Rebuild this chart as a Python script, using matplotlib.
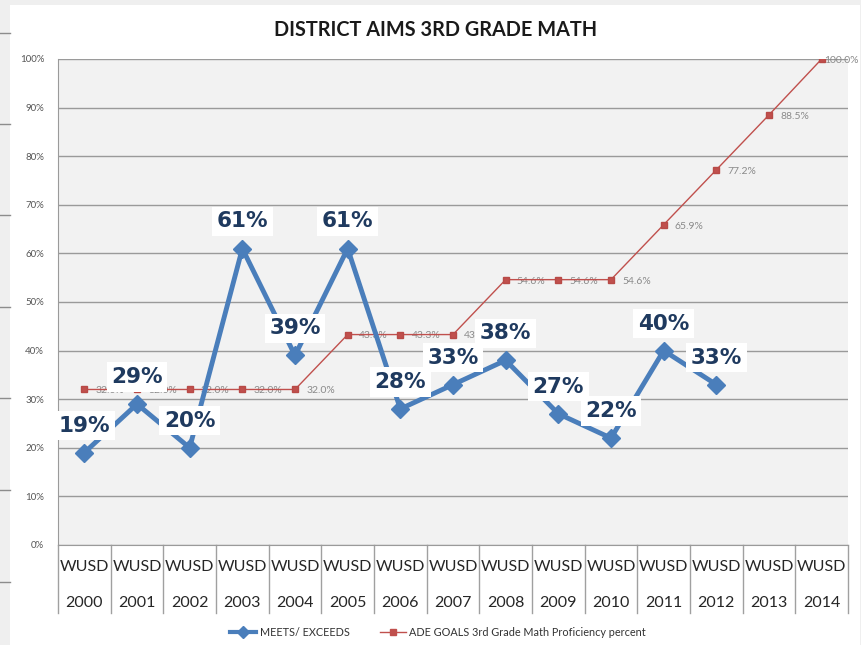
import matplotlib
matplotlib.use("Agg")
import matplotlib.pyplot as plt
import matplotlib.transforms as mtransforms
from matplotlib.patches import Rectangle
from matplotlib.lines import Line2D
import numpy as np

plt.rcParams["font.family"] = ["Lato", "DejaVu Sans"]

years = ["2000", "2001", "2002", "2003", "2004", "2005", "2006", "2007",
         "2008", "2009", "2010", "2011", "2012", "2013", "2014"]
district = ["WUSD"] * len(years)
meets = [19, 29, 20, 61, 39, 61, 28, 33, 38, 27, 22, 40, 33]
goals = [32.0, 32.0, 32.0, 32.0, 32.0, 43.3, 43.3, 43.3, 54.6, 54.6, 54.6,
         65.9, 77.2, 88.5, 100.0]

W, H = 862, 645
fig = plt.figure(figsize=(W / 100, H / 100), dpi=100, facecolor="#efefef")

# white chart frame
fig.patches.append(Rectangle((10 / W, 0), 850 / W, 640 / H, transform=fig.transFigure,
                             facecolor="white", edgecolor="none", zorder=-5))
# slide artifacts at the left edge
for yy in [33, 124, 215, 307, 398, 490, 582]:
    fig.lines.append(Line2D([0, 10 / W], [1 - yy / H] * 2, transform=fig.transFigure,
                            color="#8c8c8c", lw=1, zorder=-4))

ax = fig.add_axes([58 / W, 1 - 545 / H, 790 / W, 486 / H])
ax.set_facecolor("#f2f2f2")

x_goal = np.arange(len(goals))
x_meet = np.arange(len(meets))

ax.plot(x_goal, goals, color="#c0504d", lw=1.0, marker="s", markersize=5,
        markeredgecolor="#b84a47", zorder=3, label="ADE GOALS 3rd Grade Math Proficiency percent")
ax.plot(x_meet, meets, color="#4a7ebb", lw=3.5, marker="D", markersize=9,
        markeredgecolor="#4a7ebb", zorder=4, label="MEETS/ EXCEEDS")

for xi, v in zip(x_goal, goals):
    # last label sits on the marker so it stays inside the frame
    dx = 1.5 if xi == len(goals) - 1 else 8
    ax.annotate(f"{v:.1f}%", (xi, v), xytext=(dx, -1), textcoords="offset points",
                ha="left", va="center", fontsize=7.5, color="#8a8a8a", zorder=2,
                annotation_clip=False)

for xi, v in zip(x_meet, meets):
    ax.annotate(f"{v}%", (xi, v), xytext=(0, 19.5), textcoords="offset points",
                ha="center", va="center", fontsize=15.5, fontweight="bold",
                family="DejaVu Sans", color="#1f3a5f", zorder=6,
                bbox=dict(boxstyle="square,pad=0.22", facecolor="white", edgecolor="none"))

ax.set_xlim(-0.5, len(years) - 0.5)
ax.set_ylim(0, 100)
ax.set_yticks(np.arange(0, 101, 10))
ax.set_yticklabels([f"{t}%" for t in range(0, 101, 10)])
ax.tick_params(axis="y", length=0, labelsize=7, labelcolor="#555555", pad=10)
ax.set_xticks([])
ax.grid(axis="y", color="#9a9a9a", lw=1.0)
ax.set_axisbelow(True)
for s in ["top", "right"]:
    ax.spines[s].set_visible(False)
ax.spines["left"].set_color("#9a9a9a")
ax.spines["bottom"].set_color("#9a9a9a")

# category labels with separators
trans = mtransforms.blended_transform_factory(ax.transData, ax.transAxes)
sep_bottom = -(613 - 545) / 486
for i in range(len(years) + 1):
    ax.plot([i - 0.5, i - 0.5], [0, sep_bottom], transform=trans, color="#a0a0a0",
            lw=1, clip_on=False)
for i, (d, yr) in enumerate(zip(district, years)):
    ax.text(i, -(567 - 545) / 486, d, transform=trans, ha="center", va="center",
            fontsize=11.5, color="#262626")
    ax.text(i, -(603 - 545) / 486, yr, transform=trans, ha="center", va="center",
            fontsize=11.5, color="#262626")

fig.text(436 / W, 1 - 30 / H, "DISTRICT AIMS 3RD GRADE MATH", ha="center", va="center",
         fontsize=14.3, fontweight="bold", color="#1a1a1a")

handles = [Line2D([], [], color="#4a7ebb", lw=3, marker="D", markersize=6),
           Line2D([], [], color="#c0504d", lw=1, marker="s", markersize=4)]
fig.legend(handles, ["MEETS/ EXCEEDS", "ADE GOALS 3rd Grade Math Proficiency percent"],
           loc="center", bbox_to_anchor=(438 / W, 1 - 632 / H), ncol=2, frameon=False,
           fontsize=7.8, handlelength=2.4, handletextpad=0.3, columnspacing=2.8,
           labelcolor="#333333")

fig.savefig("out.png", dpi=100, facecolor=fig.get_facecolor())
